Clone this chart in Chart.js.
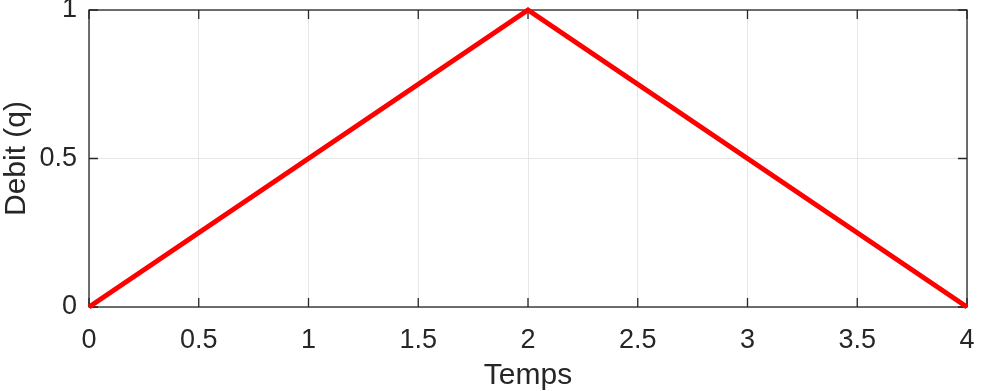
<!DOCTYPE html>
<html>
<head>
<meta charset="utf-8">
<script src="https://cdn.jsdelivr.net/npm/chart.js@4.4.1/dist/chart.umd.min.js"></script>
<style>
    html, body { margin: 0; padding: 0; background: #fff; }
    #wrap { width: 987px; height: 391px; }
</style>
</head>
<body>
<div id="wrap"><canvas id="chartDebit"></canvas></div>
<script>
const temps = [0, 2, 4];
const debit = [0, 1, 0];
const xTicks = [0, 0.5, 1, 1.5, 2, 2.5, 3, 3.5, 4];
const yTicks = [0, 0.5, 1];

const axisColor = "#262626";
const fontFam = "'Liberation Sans', Arial, sans-serif";

// boite + graduations vers l'interieur (style matlab)
const boxTicks = {
    id: "boxTicks",
    beforeDatasetsDraw(chart) {
        const { ctx, chartArea: a, scales } = chart;
        const len = 9;
        ctx.save();
        ctx.strokeStyle = axisColor;
        ctx.lineWidth = 1.3;
        ctx.strokeRect(a.left, a.top, a.right - a.left, a.bottom - a.top);
        ctx.beginPath();
        xTicks.forEach(v => {
            const px = scales.x.getPixelForValue(v);
            ctx.moveTo(px, a.bottom); ctx.lineTo(px, a.bottom - len);
            ctx.moveTo(px, a.top); ctx.lineTo(px, a.top + len);
        });
        yTicks.forEach(v => {
            const py = scales.y.getPixelForValue(v);
            ctx.moveTo(a.left, py); ctx.lineTo(a.left + len, py);
            ctx.moveTo(a.right, py); ctx.lineTo(a.right - len, py);
        });
        ctx.stroke();
        ctx.restore();
    }
};

new Chart(document.getElementById("chartDebit"), {
    type: "scatter",
    data: {
        datasets: [{
            data: temps.map((t, i) => ({ x: t, y: debit[i] })),
            showLine: true,
            borderColor: "#ff0000",
            borderWidth: 5,
            pointRadius: 0,
            clip: false
        }]
    },
    options: {
        responsive: true,
        maintainAspectRatio: false,
        animation: false,
        layout: { padding: { top: 10, right: 20, left: 0, bottom: 0 } },
        plugins: { legend: { display: false }, tooltip: { enabled: false } },
        scales: {
            x: {
                type: "linear",
                min: 0, max: 4,
                afterFit: s => { s.height = 84; s.paddingLeft = 0; s.paddingRight = 0; },
                afterBuildTicks: s => { s.ticks = xTicks.map(v => ({ value: v })); },
                grid: { color: "#e6e6e6", lineWidth: 1, drawTicks: false },
                border: { display: false },
                ticks: { color: axisColor, padding: 17, maxRotation: 0, callback: v => String(v), font: { family: fontFam, size: 27 } },
                title: { display: true, text: "Temps", color: axisColor, padding: { top: 0, bottom: 0 }, font: { family: fontFam, size: 30, lineHeight: 1 } }
            },
            y: {
                type: "linear",
                min: 0, max: 1,
                afterFit: s => { s.width = 89; s.paddingTop = 0; s.paddingBottom = 0; },
                afterBuildTicks: s => { s.ticks = yTicks.map(v => ({ value: v })); },
                grid: { color: "#e6e6e6", lineWidth: 1, drawTicks: false },
                border: { display: false },
                ticks: { color: axisColor, padding: 12, callback: v => String(v), font: { family: fontFam, size: 27 } },
                title: { display: true, text: "Debit (q)", color: axisColor, padding: { top: 2, bottom: 0 }, font: { family: fontFam, size: 30, lineHeight: 1 } }
            }
        }
    },
    plugins: [boxTicks]
});
</script>
</body>
</html>
